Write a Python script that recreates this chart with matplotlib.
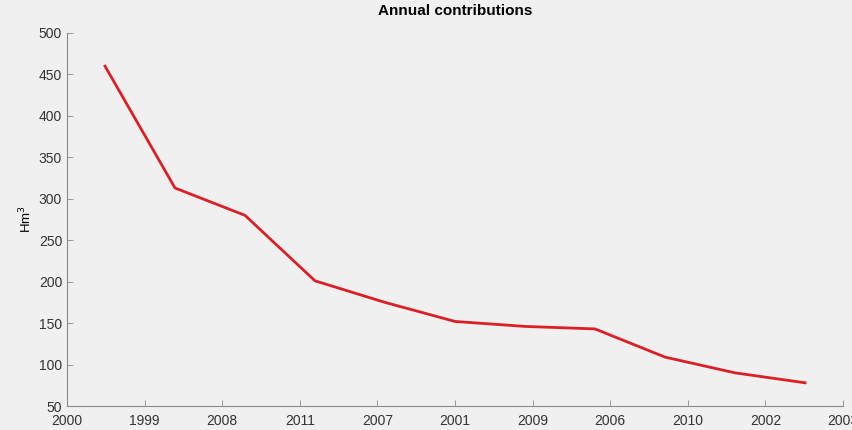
import matplotlib
matplotlib.use('Agg')
import matplotlib.pyplot as plt
import numpy as np

# Años ordenados por aportación (etiquetas del eje X)
years = ['2000', '1999', '2008', '2011', '2007', '2001',
         '2009', '2006', '2010', '2002', '2003']
# Aportaciones anuales (Hm3), de mayor a menor
contributions = [460, 313, 280, 201, 175, 152, 146, 143, 109, 90, 78]

plt.rcParams['font.family'] = ['Liberation Sans', 'DejaVu Sans']
plt.rcParams['font.size'] = 10

bg = '#f0f0f0'
fig = plt.figure(figsize=(8.53, 4.30), dpi=100, facecolor=bg)
ax = fig.add_axes([67 / 853, 1 - 406 / 430, (843 - 67) / 853, (406 - 33) / 430])
ax.set_facecolor(bg)

# posiciones de los puntos sobre el eje categórico
x = 0.49 + 0.902 * np.arange(len(contributions))
ax.plot(x, contributions, color='#dc1f26', lw=2.0, solid_joinstyle='round')

ax.set_xlim(0, 10)
ax.set_ylim(50, 500)
ax.set_xticks(range(len(years)))
ax.set_xticklabels(years)
ax.set_yticks(range(50, 501, 50))

for s in ['top', 'right']:
    ax.spines[s].set_visible(False)
for s in ['left', 'bottom']:
    ax.spines[s].set_color('#8a8a8a')
    ax.spines[s].set_linewidth(0.8)
ax.tick_params(direction='in', length=4, width=0.6, color='#8a8a8a',
               labelcolor='#333333', labelsize=10)
ax.tick_params(axis='x', pad=6)
ax.tick_params(axis='y', pad=3.5)

ax.set_title('Annual contributions', fontsize=11, fontweight='bold', pad=13)
ax.set_ylabel('Hm$^3$', fontsize=9.5, labelpad=3)

fig.savefig('out.png', dpi=100, facecolor=bg)
